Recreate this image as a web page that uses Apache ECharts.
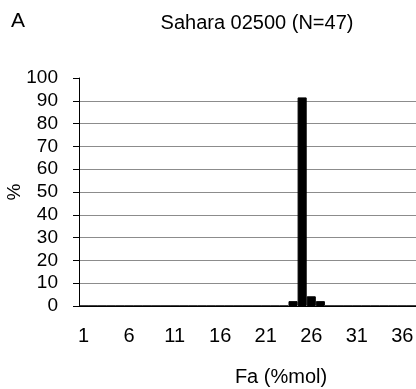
<!DOCTYPE html>
<html>
<head>
<meta charset="utf-8">
<script src="https://cdn.jsdelivr.net/npm/echarts@6/dist/echarts.min.js"></script>
<style>
html, body { margin: 0; padding: 0; background: #fff; }
#chart { width: 416px; height: 389px; }
</style>
</head>
<body>
<div id="chart"></div>
<script>
// Fa classes (%mol) and frequency (%)
var categories = [];
for (var i = 1; i <= 37; i++) categories.push(String(i));
var percent = [0, 0, 0, 0, 0, 0, 0, 0, 0, 0,
               0, 0, 0, 0, 0, 0, 0, 0, 0, 0,
               0, 0, 0, 2.13, 91.49, 4.26, 2.13, 0, 0, 0,
               0, 0, 0, 0, 0, 0, 0];

var font = 'Liberation Sans, Arial, sans-serif';
var chart = echarts.init(document.getElementById('chart'));
chart.setOption({
    animation: false,
    title: [
        { text: 'A', left: 6, top: 6, textStyle: { fontFamily: font, fontSize: 21, fontWeight: 'normal', color: '#000' } },
        { text: 'Sahara 02500 (N=47)', left: 252, top: 8, textAlign: 'center', textStyle: { fontFamily: font, fontSize: 20, fontWeight: 'normal', color: '#000' } },
        { text: 'Fa (%mol)', left: 276, top: 362, textAlign: 'center', textStyle: { fontFamily: font, fontSize: 20, fontWeight: 'normal', color: '#000' } }
    ],
    grid: { left: 79, right: 0, top: 78, bottom: 83, outerBoundsMode: 'none' },
    xAxis: {
        type: 'category',
        data: categories,
        boundaryGap: true,
        axisLine: { lineStyle: { color: '#000', width: 1 } },
        axisTick: { interval: 4, length: 5, lineStyle: { color: '#000' } },
        axisLabel: { interval: 4, margin: 20, fontFamily: font, fontSize: 20, color: '#000' }
    },
    yAxis: {
        type: 'value',
        min: 0, max: 100, interval: 10,
        name: '%',
        nameLocation: 'middle',
        nameGap: 55,
        nameMoveOverlap: false,
        nameTextStyle: { fontFamily: font, fontSize: 19, color: '#000' },
        axisLine: { show: true, lineStyle: { color: '#000', width: 1 } },
        axisTick: { show: true, length: 6, lineStyle: { color: '#000' } },
        axisLabel: { margin: 21, fontFamily: font, fontSize: 19, color: '#000' },
        splitLine: { show: true, showMaxLine: false, lineStyle: { color: '#8c8c8c', width: 1 } }
    },
    series: [{
        type: 'bar',
        data: percent,
        barCategoryGap: '0%',
        itemStyle: { color: '#000', borderColor: '#000', borderWidth: 1 }
    }]
});
</script>
</body>
</html>
